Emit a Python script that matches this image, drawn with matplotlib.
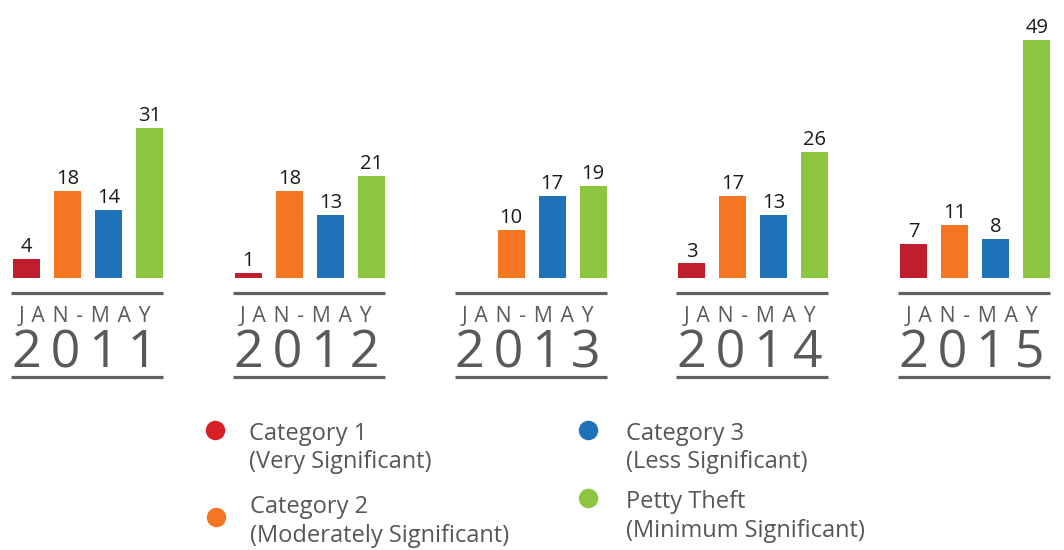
import matplotlib
matplotlib.use("Agg")
import matplotlib.pyplot as plt
from matplotlib.transforms import blended_transform_factory
from matplotlib.lines import Line2D

years = ["2011", "2012", "2013", "2014", "2015"]
period_label = "JAN-MAY"
cat1 = [4, 1, 0, 3, 7]
cat2 = [18, 18, 10, 17, 11]
cat3 = [14, 13, 17, 13, 8]
petty = [31, 21, 19, 26, 49]
series = [cat1, cat2, cat3, petty]
colors = ["#be1e2d", "#f47622", "#1f72b8", "#8cc540"]
legend_colors = ["#d71f26", "#f47622", "#1f72b8", "#8cc540"]
legend_titles = ["Category 1", "Category 2", "Category 3", "Petty Theft"]
legend_subs = ["(Very Significant)", "(Moderately Significant)",
               "(Less Significant)", "(Minimum Significant)"]

FAM = ["Open Sans", "DejaVu Sans"]
W, H = 1064, 550
fig = plt.figure(figsize=(W / 100, H / 100), dpi=100)
fig.patch.set_facecolor("white")

base_px = 278
ax = fig.add_axes([0, (H - base_px) / H, 1, base_px / H])
px_per_unit = 4.85
ax.set_ylim(0, base_px / px_per_unit)
bar_px = 41.0
first_center = 26.5
ax.set_xlim(-first_center / bar_px, (W - first_center) / bar_px)
ax.axis("off")

group_gap = 5.41
bw = 0.66
for j, vals in enumerate(series):
    for g, v in enumerate(vals):
        x = g * group_gap + j
        if v > 0:
            ax.bar(x, v, width=bw, color=colors[j], linewidth=0)
            ax.annotate(str(v), (x, v), xytext=(0, 5), textcoords="offset points",
                        ha="center", va="baseline", fontsize=14.5,
                        family=FAM, color="#1a1a1a")

tr = blended_transform_factory(ax.transData, fig.transFigure)
gray = "#606164"
period_txt = " \u200a".join(period_label)
for g, yr in enumerate(years):
    x0 = g * group_gap - bw / 2 - 0.05
    x1 = g * group_gap + 3 + bw / 2
    for ypx in (293, 376.5):
        ax.add_line(Line2D([x0, x1], [1 - ypx / H, 1 - ypx / H], transform=tr,
                           color=gray, linewidth=2.3, clip_on=False,
                           solid_capstyle="butt"))
    xc = (x0 + x1) / 2 - 0.06
    ax.text(xc, 1 - 322 / H, period_txt, transform=tr, ha="center", va="baseline",
            fontsize=15.3, family=FAM, color="#5a5b5e")
    ax.text(xc, 1 - 367 / H, "\u2006".join(yr), transform=tr, ha="center",
            va="baseline", fontsize=37.5, family=FAM, color="#58595b")

# legend
leg_pos = [(215, 430, 440, 468), (216, 517, 513, 542),
           (588, 430, 440, 468), (588, 498, 508, 537)]
for (cx, cy, b1, b2), c, t1, t2 in zip(leg_pos, legend_colors, legend_titles, legend_subs):
    fig.add_artist(Line2D([cx / W], [1 - cy / H], marker="o", markersize=13,
                          color=c, linestyle="none", transform=fig.transFigure))
    tx = cx + 34 if cx < 400 else cx + 38
    fig.text(tx / W, 1 - b1 / H, t1, ha="left", va="baseline",
             fontsize=17, family=FAM, color="#555659")
    fig.text(tx / W, 1 - b2 / H, t2, ha="left", va="baseline",
             fontsize=17, family=FAM, color="#555659")

fig.savefig("out.png", dpi=100, facecolor="white")
